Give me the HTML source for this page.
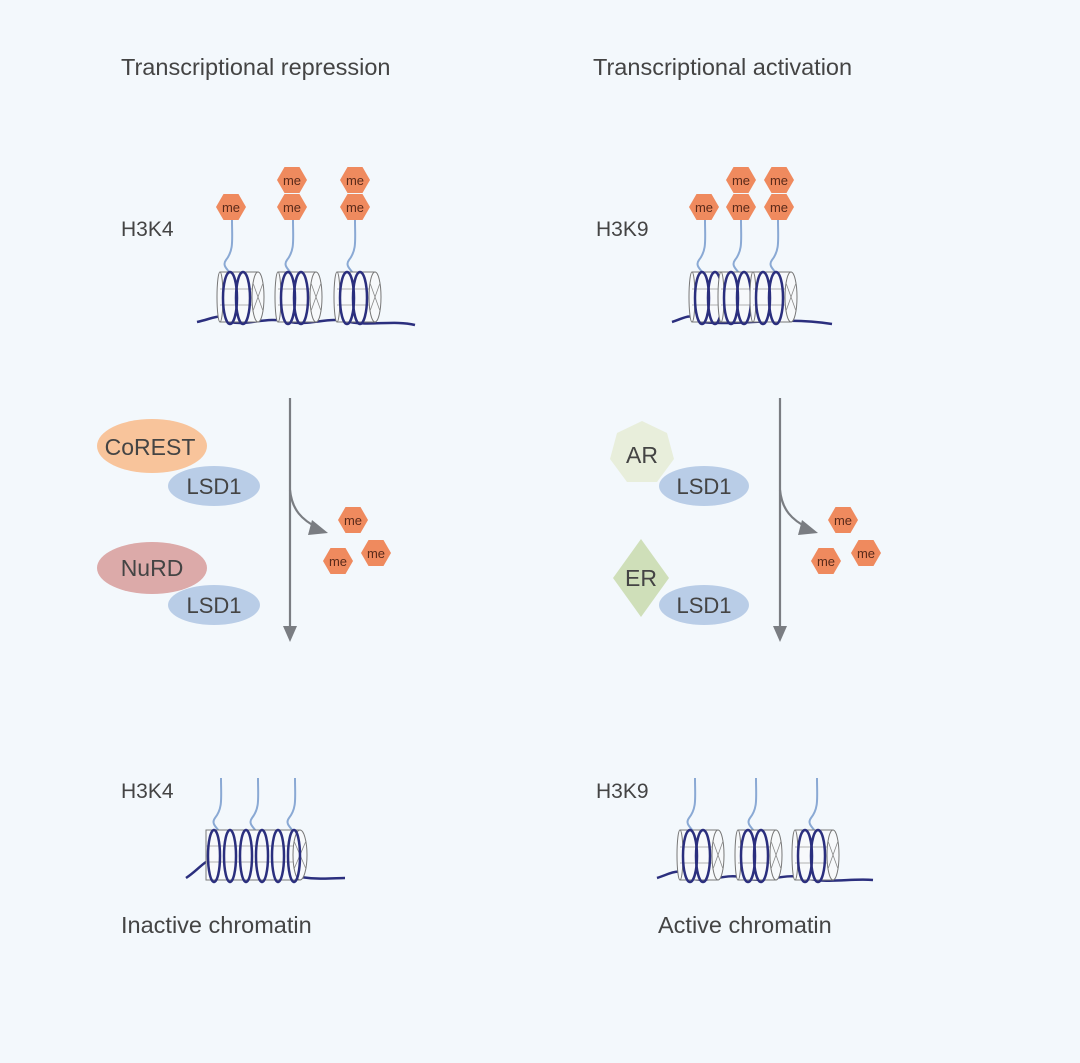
<!DOCTYPE html>
<html><head><meta charset="utf-8"><style>
html,body{margin:0;padding:0;background:#f3f8fc}
svg{display:block}
text{font-family:"Liberation Sans","DejaVu Sans",sans-serif;fill:#444}
</style></head><body>
<svg width="1080" height="1063" viewBox="0 0 1080 1063" xmlns="http://www.w3.org/2000/svg">
<rect width="1080" height="1063" fill="#f3f8fc"/>
<defs>
<g id="hex"><polygon points="-15,0 -7.5,-13 7.5,-13 15,0 7.5,13 -7.5,13" fill="#ef8a5e"/><text x="0" y="5" font-size="13" text-anchor="middle" style="fill:#5a2a1a">me</text></g>
<g id="nuc">
<rect x="-20" y="-25" width="38" height="50" fill="#f7f9fb" stroke="#777" stroke-width="1"/>
<ellipse cx="-20" cy="0" rx="3" ry="25" fill="#f7f9fb" stroke="#777" stroke-width="1"/>
<line x1="-20" y1="-8" x2="18" y2="-8" stroke="#999" stroke-width="0.8"/>
<line x1="-20" y1="8" x2="18" y2="8" stroke="#999" stroke-width="0.8"/>
<ellipse cx="18" cy="0" rx="6" ry="25" fill="#f7f9fb" stroke="#777" stroke-width="1"/>
<line x1="13" y1="-14" x2="23" y2="14" stroke="#888" stroke-width="0.8"/>
<line x1="13" y1="14" x2="23" y2="-14" stroke="#888" stroke-width="0.8"/>
<ellipse cx="-10" cy="1" rx="7" ry="26" fill="none" stroke="#2b2f7e" stroke-width="2.5"/>
<ellipse cx="3" cy="1" rx="7" ry="26" fill="none" stroke="#2b2f7e" stroke-width="2.5"/>
</g>
<g id="tail"><path d="M0,0 C0,20 2,30 -6,40 C-12,48 2,52 2,62" fill="none" stroke="#8aa9d4" stroke-width="2"/></g>
</defs>

<text x="121" y="75" font-size="23.5">Transcriptional repression</text>
<text x="593" y="75" font-size="23.5">Transcriptional activation</text>

<!-- top-left -->
<text x="121" y="236" font-size="21">H3K4</text>
<path d="M197,322 C215,318 222,312 230,322 C250,326 265,316 290,322 C310,326 330,316 350,322 C370,326 395,320 415,325" fill="none" stroke="#2b2f7e" stroke-width="2.5"/>
<use href="#tail" x="232" y="220"/><use href="#tail" x="293" y="220"/><use href="#tail" x="355" y="220"/>
<use href="#nuc" x="240" y="297"/><use href="#nuc" x="298" y="297"/><use href="#nuc" x="357" y="297"/>
<use href="#hex" x="231" y="207"/><use href="#hex" x="292" y="180"/><use href="#hex" x="292" y="207"/><use href="#hex" x="355" y="180"/><use href="#hex" x="355" y="207"/>

<!-- top-right -->
<text x="596" y="236" font-size="21">H3K9</text>
<path d="M672,322 C685,318 690,312 700,322 C740,326 780,316 832,324" fill="none" stroke="#2b2f7e" stroke-width="2.5"/>
<use href="#tail" x="705" y="220"/><use href="#tail" x="741" y="220"/><use href="#tail" x="778" y="220"/>
<use href="#nuc" x="712" y="297"/><use href="#nuc" x="741" y="297"/><use href="#nuc" x="773" y="297"/>
<use href="#hex" x="704" y="207"/><use href="#hex" x="741" y="180"/><use href="#hex" x="741" y="207"/><use href="#hex" x="779" y="180"/><use href="#hex" x="779" y="207"/>

<!-- arrows -->
<g stroke="#7a7d82" stroke-width="2.2" fill="none">
<line x1="290" y1="398" x2="290" y2="632"/>
<path d="M290,490 C292,510 302,520 318,528"/>
<line x1="780" y1="398" x2="780" y2="632"/>
<path d="M780,490 C782,510 792,520 808,528"/>
</g>
<polygon points="283,626 297,626 290,642" fill="#7a7d82"/>
<polygon points="773,626 787,626 780,642" fill="#7a7d82"/>
<polygon points="312,520 328,533 308,535" fill="#7a7d82"/>
<polygon points="802,520 818,533 798,535" fill="#7a7d82"/>
<use href="#hex" x="353" y="520"/><use href="#hex" x="338" y="561"/><use href="#hex" x="376" y="553"/>
<use href="#hex" x="843" y="520"/><use href="#hex" x="826" y="561"/><use href="#hex" x="866" y="553"/>

<!-- left complexes -->
<ellipse cx="152" cy="446" rx="55" ry="27" fill="#f8c49b"/>
<text x="150" y="455" font-size="23" text-anchor="middle">CoREST</text>
<ellipse cx="214" cy="486" rx="46" ry="20" fill="#b9cde7"/>
<text x="214" y="494" font-size="22" text-anchor="middle">LSD1</text>
<ellipse cx="152" cy="568" rx="55" ry="26" fill="#dcaaa9"/>
<text x="152" y="576" font-size="23" text-anchor="middle">NuRD</text>
<ellipse cx="214" cy="605" rx="46" ry="20" fill="#b9cde7"/>
<text x="214" y="613" font-size="22" text-anchor="middle">LSD1</text>

<!-- right complexes -->
<polygon points="642,421 667,433 674,459 657,482 627,482 610,459 617,433" fill="#e8eedb"/>
<text x="642" y="463" font-size="23" text-anchor="middle">AR</text>
<ellipse cx="704" cy="486" rx="45" ry="20" fill="#b9cde7"/>
<text x="704" y="494" font-size="22" text-anchor="middle">LSD1</text>
<polygon points="641,539 669,578 641,617 613,578" fill="#cfdfb9"/>
<text x="641" y="586" font-size="23" text-anchor="middle">ER</text>
<ellipse cx="704" cy="605" rx="45" ry="20" fill="#b9cde7"/>
<text x="704" y="613" font-size="22" text-anchor="middle">LSD1</text>

<!-- bottom-left -->
<text x="121" y="798" font-size="21">H3K4</text>
<use href="#tail" x="221" y="778"/><use href="#tail" x="258" y="778"/><use href="#tail" x="295" y="778"/>
<path d="M186,878 C195,872 200,866 206,862" fill="none" stroke="#2b2f7e" stroke-width="2.5"/>
<path d="M300,877 C320,880 335,878 345,878" fill="none" stroke="#2b2f7e" stroke-width="2.5"/>
<g>
<rect x="206" y="830" width="94" height="50" fill="#f7f9fb" stroke="#777"/>
<line x1="206" y1="846" x2="300" y2="846" stroke="#999" stroke-width="0.8"/>
<line x1="206" y1="862" x2="300" y2="862" stroke="#999" stroke-width="0.8"/>
<ellipse cx="300" cy="855" rx="7" ry="25" fill="#f7f9fb" stroke="#777"/>
<line x1="294" y1="841" x2="306" y2="869" stroke="#888" stroke-width="0.8"/>
<line x1="294" y1="869" x2="306" y2="841" stroke="#888" stroke-width="0.8"/>
<g fill="none" stroke="#2b2f7e" stroke-width="2.5">
<ellipse cx="214" cy="856" rx="6" ry="26"/><ellipse cx="230" cy="856" rx="6" ry="26"/><ellipse cx="246" cy="856" rx="6" ry="26"/><ellipse cx="262" cy="856" rx="6" ry="26"/><ellipse cx="278" cy="856" rx="6" ry="26"/><ellipse cx="294" cy="856" rx="6" ry="26"/>
</g></g>
<text x="121" y="933" font-size="23.5">Inactive chromatin</text>

<!-- bottom-right -->
<text x="596" y="798" font-size="21">H3K9</text>
<path d="M657,878 C670,874 680,866 690,878 C710,884 725,872 745,878 C765,884 785,872 805,878 C830,884 850,878 873,880" fill="none" stroke="#2b2f7e" stroke-width="2.5"/>
<use href="#tail" x="695" y="778"/><use href="#tail" x="756" y="778"/><use href="#tail" x="817" y="778"/>
<use href="#nuc" x="700" y="855"/><use href="#nuc" x="758" y="855"/><use href="#nuc" x="815" y="855"/>
<text x="658" y="933" font-size="23.5">Active chromatin</text>
</svg>
</body></html>
